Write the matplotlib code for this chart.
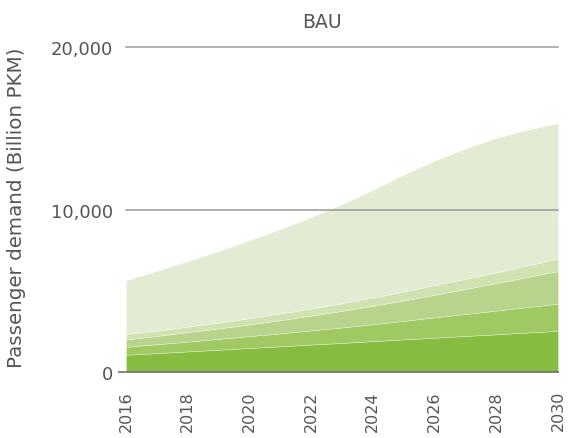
import matplotlib
matplotlib.use("Agg")
import matplotlib.pyplot as plt

# Passenger demand by segment, billion PKM (BAU scenario), stacked bottom to top
years = list(range(2016, 2031))
seg1 = [1060, 1160, 1270, 1370, 1480, 1580, 1690, 1790, 1900, 2010, 2110, 2220, 2320, 2430, 2530]
seg2 = [490, 550, 600, 670, 730, 800, 870, 950, 1040, 1140, 1250, 1350, 1460, 1560, 1680]
seg3 = [450, 510, 580, 640, 720, 810, 910, 1020, 1130, 1250, 1390, 1540, 1690, 1850, 2000]
seg4 = [330, 330, 340, 360, 380, 410, 430, 470, 510, 550, 600, 620, 660, 710, 760]
seg5 = [3320, 3670, 4020, 4400, 4790, 5190, 5620, 6100, 6620, 7200, 7650, 8020, 8270, 8350, 8350]

colors = ["#86bd40", "#a0c963", "#b8d48c", "#cfe2b0", "#e2ecd4"]
y_ticks = [0, 10000, 20000]
x_ticks = list(range(2016, 2031, 2))

text_color = "#555555"
plt.rcParams["font.family"] = ["DejaVu Sans"]

fig = plt.figure(figsize=(5.68, 4.39), dpi=100)
ax = fig.add_axes([0.2218, 0.1503, 0.9824 - 0.2218, 0.8907 - 0.1503])

ax.stackplot(years, seg1, seg2, seg3, seg4, seg5, colors=colors,
             edgecolor=(1, 1, 1, 0.5), linewidth=0.4, zorder=1)

ax.set_xlim(2016, 2030)
ax.set_ylim(0, 20000)

# horizontal reference lines drawn over the areas
for v in y_ticks[1:]:
    ax.axhline(v, color="#9a9a9a", lw=1.1, zorder=3, clip_on=False)
# baseline extending slightly past the plot on the left
ax.plot([-0.0185, 1.002], [0, 0], transform=ax.transAxes, color="#707070",
        lw=1.2, zorder=4, clip_on=False, solid_capstyle="butt")

for s in ax.spines.values():
    s.set_visible(False)

ax.set_yticks(y_ticks)
ax.set_yticklabels([f"{v:,}" for v in y_ticks])
ax.set_xticks(x_ticks)
ax.set_xticklabels([str(x) for x in x_ticks], rotation=90, va="top")
ax.tick_params(axis="y", length=0, pad=9.5, labelsize=13, labelcolor=text_color)
ax.tick_params(axis="x", length=0, pad=13, labelsize=11.5, labelcolor=text_color)

fig.text(17 / 568, 1 - 208 / 439, "Passenger demand (Billion PKM)", rotation=90,
         ha="center", va="center", fontsize=14.3, color=text_color)
fig.text(322 / 568, 1 - 22 / 439, "BAU", ha="center", va="center",
         fontsize=13.5, color=text_color)

fig.savefig("out.png", dpi=100)
